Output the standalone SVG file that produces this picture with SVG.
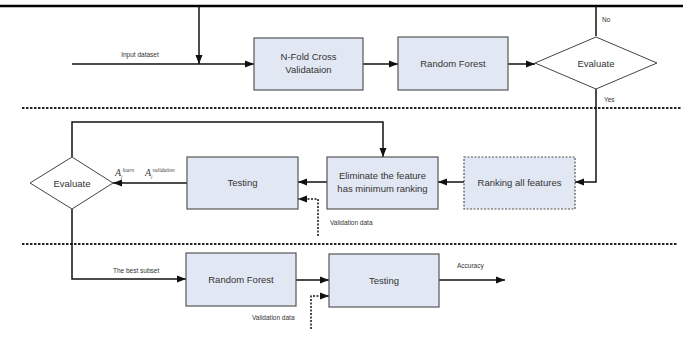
<svg xmlns="http://www.w3.org/2000/svg" width="695" height="357" viewBox="0 0 695 357">
<style>
.box{fill:#e2e8f3;stroke:#555;stroke-width:1.2}
.dbox{fill:#e2e8f3;stroke:#555;stroke-width:1.2;stroke-dasharray:2 1.5}
.dia{fill:#fff;stroke:#444;stroke-width:1}
.t{font-family:"Liberation Sans",Arial,sans-serif;font-size:9.5px;fill:#333;text-anchor:middle}
.s{font-family:"Liberation Sans",Arial,sans-serif;font-size:6.5px;fill:#333}
.m{font-family:"Liberation Serif",serif;font-style:italic;fill:#444}
.ln{fill:none;stroke:#111;stroke-width:1.5}
.dl{fill:none;stroke:#111;stroke-width:1.5;stroke-dasharray:2 1.5}
.sep{fill:none;stroke:#222;stroke-width:2;stroke-dasharray:2.5 1.5}
</style>
<defs>
<marker id="a" markerWidth="10" markerHeight="8" refX="9" refY="4" orient="auto" markerUnits="userSpaceOnUse">
<path d="M0,0.5 L9,4 L0,7.5 Z" fill="#111"/>
</marker>
</defs>
<rect width="695" height="357" fill="#fff"/>
<line x1="22" y1="108" x2="682" y2="108" class="sep"/>
<line x1="22" y1="244" x2="677" y2="244" class="sep"/>
<g id="connectors">
<path d="M0,6 H683" fill="none" stroke="#000" stroke-width="2.5"/>
<path d="M596,6 V36" class="ln"/>
<path d="M199,6 V64" class="ln" marker-end="url(#a)"/>
<path d="M72,64 H254" class="ln" marker-end="url(#a)"/>
<path d="M363,64 H398" class="ln" marker-end="url(#a)"/>
<path d="M508,64 H535" class="ln" marker-end="url(#a)"/>
<path d="M596,89 V182 H575" class="ln" marker-end="url(#a)"/>
<path d="M464,182 H438" class="ln" marker-end="url(#a)"/>
<path d="M327,182 H298" class="ln" marker-end="url(#a)"/>
<path d="M318,236 V199 H298" class="dl" marker-end="url(#a)"/>
<path d="M187,183 H113" class="ln" marker-end="url(#a)"/>
<path d="M72,157 V122 H383 V157" class="ln" marker-end="url(#a)"/>
<path d="M72,209 V279 H186" class="ln" marker-end="url(#a)"/>
<path d="M296,280 H329" class="ln" marker-end="url(#a)"/>
<path d="M311,329 V296 H329" class="dl" marker-end="url(#a)"/>
<path d="M439,280 H505" class="ln" marker-end="url(#a)"/>
<text x="140" y="57" class="s" text-anchor="middle">Input dataset</text>
<text x="602" y="22" class="s">No</text>
<text x="604" y="102" class="s">Yes</text>
<text x="330" y="225" class="s">Validation  data</text>
<text x="113" y="273" class="s">The best subset</text>
<text x="252" y="320" class="s">Validation data</text>
<text x="457" y="268" class="s">Accuracy</text>
<text x="115" y="176" class="m" font-size="10">A<tspan font-size="5" dy="2">j</tspan><tspan font-size="5.5" dy="-6">learn</tspan></text>
<text x="145" y="176" class="m" font-size="10">A<tspan font-size="5" dy="2">j</tspan><tspan font-size="5.5" dy="-6">validation</tspan></text>
</g>
<g id="nfold"><rect x="254" y="38" width="109" height="52" class="box"/><text x="308.5" y="60" class="t">N-Fold Cross</text><text x="308.5" y="73" class="t">Validataion</text></g>
<g id="rf1"><rect x="398" y="37" width="110" height="53" class="box"/><text x="453" y="67" class="t">Random Forest</text></g>
<g id="eval1"><polygon points="596,37 657,63 596,89 535,63" class="dia"/><text x="596" y="67" class="t">Evaluate</text></g>
<g id="ranking"><rect x="464" y="157" width="111" height="52" class="dbox"/><text x="519.5" y="186" class="t">Ranking all features</text></g>
<g id="eliminate"><rect x="327" y="157" width="111" height="52" class="box"/><text x="382.5" y="179" class="t">Eliminate the feature</text><text x="382.5" y="192" class="t">has minimum ranking</text></g>
<g id="testing1"><rect x="187" y="157" width="111" height="52" class="box"/><text x="242.5" y="186" class="t">Testing</text></g>
<g id="eval2"><polygon points="72,157 113,183 72,209 30,183" class="dia"/><text x="72" y="187" class="t">Evaluate</text></g>
<g id="rf2"><rect x="186" y="253" width="110" height="53" class="box"/><text x="241" y="283" class="t">Random Forest</text></g>
<g id="testing2"><rect x="329" y="254" width="110" height="53" class="box"/><text x="384" y="284" class="t">Testing</text></g>
</svg>
